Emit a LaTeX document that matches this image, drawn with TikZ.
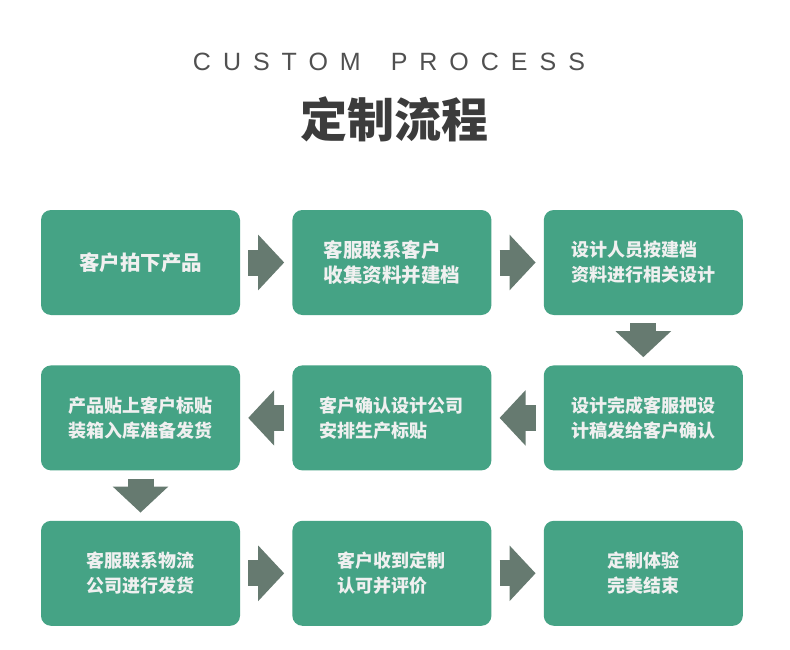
\documentclass[tikz,border=0pt]{standalone}
\usepackage{fontspec}
\usetikzlibrary{positioning}
\usetikzlibrary{arrows.meta}

\newfontfamily\cjkfont{Noto Sans CJK SC}
\newfontfamily\latinfont{Liberation Sans}[LetterSpace=48]
\definecolor{boxgreen}{HTML}{45A385}
\definecolor{arrowgrey}{HTML}{667A70}
\definecolor{titlegrey}{HTML}{3C3C3C}

\begin{document}
\begin{tikzpicture}[x=1pt,y=-1pt,node distance=50pt and 52pt,
  stepbox/.style={rectangle,rounded corners=10pt,fill=boxgreen,
  minimum width=199pt,minimum height=105pt,inner sep=0pt,
  text=white!94!black,align=left,
  font=\cjkfont\bfseries\fontsize{18}{25}\selectfont},
  flow/.style={draw=arrowgrey,line width=26pt,shorten <=8pt,shorten >=8pt,
  -{Triangle[length=26pt,width=54pt,fill=arrowgrey]}}]
  \useasboundingbox[fill=white] (0,0) rectangle (790,650);

  % titles
  \node[font=\latinfont\fontsize{25}{25}\selectfont,text=titlegrey!90]
    (entitle) at (389,62) {CUSTOM\hspace{11pt} PROCESS};
  \node[font=\cjkfont\bfseries\fontsize{47}{47}\selectfont,text=titlegrey]
    (cntitle) at (394,119) {定制流程};

  % first row, left to right
  \node[stepbox,font=\cjkfont\bfseries\fontsize{20.5}{25}\selectfont]
    (order) at (140.5,262.5) {客户拍下产品};
  \node[stepbox,font=\cjkfont\bfseries\fontsize{19.5}{25}\selectfont]
    (collect) [right=of order] {客服联系客户\\收集资料并建档};
  \node[stepbox] (design) [right=of collect] {设计人员按建档\\资料进行相关设计};
  % second row, right to left
  \node[stepbox] (confirm) [below=of design] {设计完成客服把设\\计稿发给客户确认};
  \node[stepbox] (arrange) [left=of confirm] {客户确认设计公司\\安排生产标贴};
  \node[stepbox] (pack) [left=of arrange] {产品贴上客户标贴\\装箱入库准备发货};
  % third row, left to right
  \node[stepbox] (logistics) [below=of pack] {客服联系物流\\公司进行发货};
  \node[stepbox] (receive) [right=of logistics] {客户收到定制\\认可并评价};
  \node[stepbox] (finish) [right=of receive] {定制体验\\完美结束};

  \draw[flow] (order) -- (collect);
  \draw[flow] (collect) -- (design);
  \draw[flow] (design) -- (confirm);
  \draw[flow] (confirm) -- (arrange);
  \draw[flow] (arrange) -- (pack);
  \draw[flow] (pack) -- (logistics);
  \draw[flow] (logistics) -- (receive);
  \draw[flow] (receive) -- (finish);
\end{tikzpicture}
\end{document}
